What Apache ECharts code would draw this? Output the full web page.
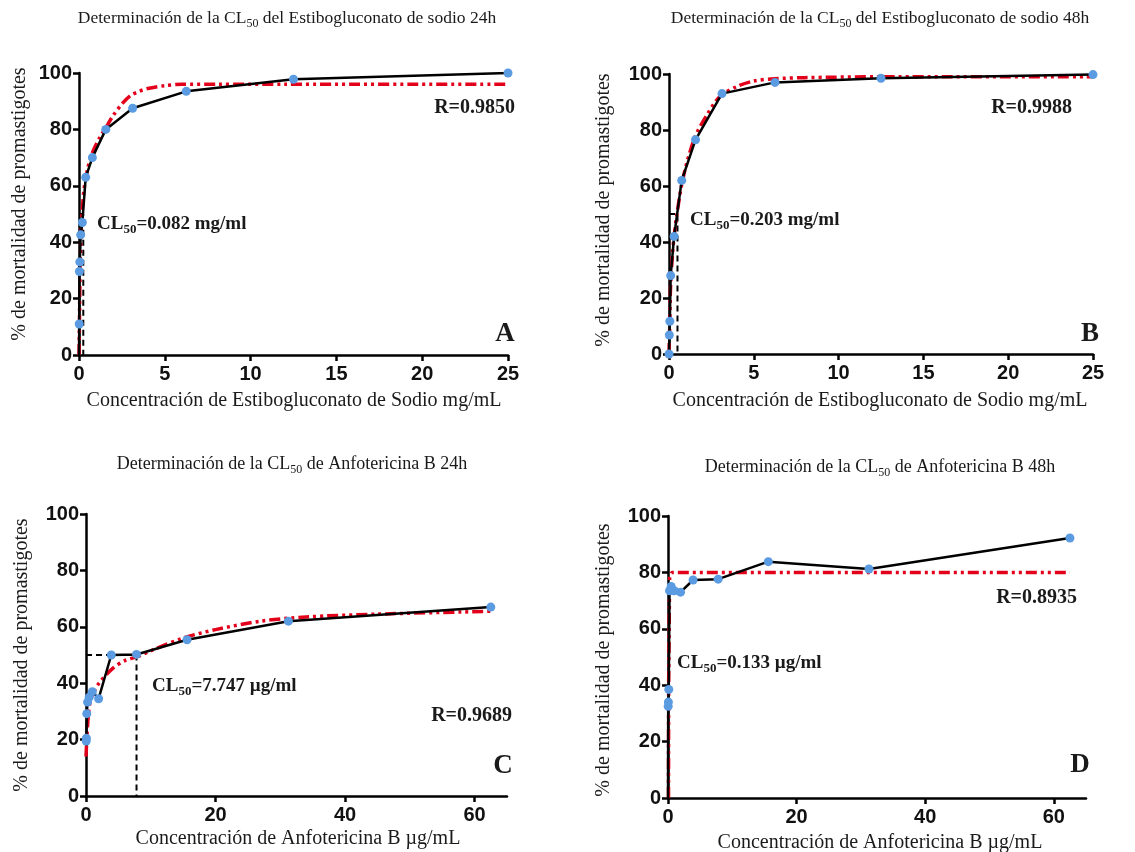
<!DOCTYPE html>
<html>
<head>
<meta charset="utf-8">
<script src="https://cdn.jsdelivr.net/npm/echarts@6/dist/echarts.min.js"></script>
<style>
  html, body { margin: 0; padding: 0; background: #fff; }
  #main { width: 1135px; height: 852px; }
</style>
</head>
<body>
<div id="main"></div>
<script>
// A: Estibogluconato 24h
var concA = [0, 0.012, 0.024, 0.049, 0.098, 0.195, 0.39, 0.78, 1.5625, 3.125, 6.25, 12.5, 25];
var mortA = [0, 11, 29.6, 33, 42.6, 47, 63, 70, 80, 87.5, 93.5, 97.8, 100];
var fitXA = [0, 0.02, 0.05, 0.1, 0.2, 0.3, 0.5, 0.8, 1.2, 1.6, 2, 2.5, 3, 3.5, 4, 5, 6, 8, 12, 25];
var fitYA = [0, 8, 25, 40, 52, 59, 66, 72, 77, 81, 85, 89, 92, 93.5, 94.5, 95.5, 96, 96, 96, 96];
var clLineA = [[0, 50], [0.25, 50], [0.25, 0]];

// B: Estibogluconato 48h
var concB = [0, 0.02, 0.05, 0.1, 0.3, 0.75, 1.5625, 3.125, 6.25, 12.5, 25];
var mortB = [0, 6.8, 11.7, 28, 42, 62, 76.5, 93, 97, 98.5, 99.8];
var fitXB = [0, 0.05, 0.1, 0.3, 0.8, 1.5, 2.2, 3, 4, 5, 6.25, 8, 12.5, 25];
var fitYB = [0, 12, 25, 42, 62, 77, 85, 92, 95.5, 97.5, 98.3, 98.7, 99, 99];
var clLineB = [[0, 50], [0.5, 50], [0.5, 0]];

// C: Anfotericina B 24h
var concC = [0.03, 0.06, 0.12, 0.24, 0.49, 0.98, 1.95, 3.9, 7.8, 15.6, 31.25, 62.5];
var mortC = [19.5, 20.5, 29.2, 33.3, 35, 37, 34.5, 50, 50.2, 55.4, 62, 67];
var fitXC = [0, 0.3, 0.6, 1, 2, 4, 6, 8, 10, 15, 20, 27, 34, 45, 62.5];
var fitYC = [14, 27, 33, 36, 40, 45, 48, 49.5, 51.5, 56, 59, 62, 63.5, 64.5, 65.5];
var clLineC = [[0, 50], [7.8, 50], [7.8, 0]];

// D: Anfotericina B 48h
var concD = [0, 0.03, 0.06, 0.12, 0.24, 0.49, 0.98, 1.95, 3.9, 7.8, 15.6, 31.25, 62.5];
var mortD = [0, 32.5, 34, 38.5, 73.5, 75, 73.5, 73, 77.3, 77.6, 83.8, 81.2, 92.2];
var fitXD = [0.08, 0.1, 0.25, 0.6, 62.5];
var fitYD = [0, 40, 78, 80, 80];

var panels = [
  { grid: { left: 79, top: 73, width: 429, height: 282 }, xmax: 25, xint: 5,
    conc: concA, mort: mortA, fx: fitXA, fy: fitYA, cl: clLineA, smooth: 0.3, hideFirst: true },
  { grid: { left: 669, top: 74, width: 424, height: 280 }, xmax: 25, xint: 5,
    conc: concB, mort: mortB, fx: fitXB, fy: fitYB, cl: clLineB, smooth: 0.3, hideFirst: false },
  { grid: { left: 86, top: 514, width: 421, height: 282 }, xmax: 65, xint: 20,
    conc: concC, mort: mortC, fx: fitXC, fy: fitYC, cl: clLineC, smooth: 0.3, hideFirst: false },
  { grid: { left: 668, top: 516, width: 418, height: 282 }, xmax: 65, xint: 20,
    conc: concD, mort: mortD, fx: fitXD, fy: fitYD, cl: null, smooth: false, hideFirst: true }
];

function pts(xs, ys) {
  return xs.map(function (x, i) { return [x, ys[i]]; });
}

var axisStyle = { lineStyle: { color: '#000', width: 2.5 } };
var tickLabel = { color: '#111', fontFamily: 'Liberation Sans', fontWeight: 'bold', fontSize: 20 };

var grids = [], xAxes = [], yAxes = [], series = [];
panels.forEach(function (p, i) {
  grids.push(p.grid);
  xAxes.push({
    gridIndex: i, type: 'value', min: 0, max: p.xmax, interval: p.xint,
    axisLine: axisStyle, axisTick: { length: 6, lineStyle: { color: '#000', width: 2.5 } },
    splitLine: { show: false },
    axisLabel: Object.assign({ margin: 9, showMaxLabel: p.xmax === 25 }, tickLabel)
  });
  yAxes.push({
    gridIndex: i, type: 'value', min: 0, max: 100, interval: 20,
    axisLine: axisStyle, axisTick: { length: 6, lineStyle: { color: '#000', width: 2.5 } },
    splitLine: { show: false },
    axisLabel: Object.assign({ margin: 7 }, tickLabel)
  });
  if (p.cl) {
    series.push({
      type: 'line', xAxisIndex: i, yAxisIndex: i, data: p.cl, symbol: 'none', silent: true,
      lineStyle: { color: '#000', width: 2, type: [6, 4] }, z: 1
    });
  }
  series.push({
    type: 'line', xAxisIndex: i, yAxisIndex: i, data: pts(p.fx, p.fy), symbol: 'none',
    smooth: p.smooth,
    lineStyle: { color: '#e3001b', width: 3.5, type: [11, 4, 3, 4, 3, 4] }, z: 2
  });
  var d = pts(p.conc, p.mort).map(function (v, k) {
    return (k === 0 && p.hideFirst) ? { value: v, symbol: 'none' } : v;
  });
  series.push({
    type: 'line', xAxisIndex: i, yAxisIndex: i, data: d,
    symbol: 'circle', symbolSize: 9,
    lineStyle: { color: '#000', width: 2.5 },
    itemStyle: { color: '#5a9be2' }, z: 3
  });
});

var serif = 'Liberation Serif';
function txt(x, y, text, size, opts) {
  opts = opts || {};
  var w = opts.bold ? 'bold' : 'normal';
  return {
    type: 'text', x: x, y: y, rotation: opts.rot || 0, silent: true,
    style: {
      text: text, fontFamily: serif, fontSize: size, fontWeight: w,
      fill: '#1a1a1a', textAlign: opts.align || 'center', textVerticalAlign: 'middle',
      rich: {
        t: { fontFamily: serif, fontSize: size, fontWeight: w, lineHeight: size + 6, verticalAlign: 'middle' },
        s: { fontFamily: serif, fontSize: Math.round(size * 0.68), fontWeight: w, lineHeight: size + 6, verticalAlign: 'bottom' }
      }
    }
  };
}

var graphics = [
  txt(287, 18, '{t|Determinación de la CL}{s|50}{t| del Estibogluconato de sodio 24h}', 17.5),
  txt(880, 18, '{t|Determinación de la CL}{s|50}{t| del Estibogluconato de sodio 48h}', 17.5),
  txt(292, 464, '{t|Determinación de la CL}{s|50}{t| de Anfotericina B 24h}', 18),
  txt(880, 467, '{t|Determinación de la CL}{s|50}{t| de Anfotericina B 48h}', 18),

  txt(20, 204, '% de mortalidad de promastigotes', 20, { rot: Math.PI / 2 }),
  txt(604, 210, '% de mortalidad de promastigotes', 20, { rot: Math.PI / 2 }),
  txt(22, 655, '% de mortalidad de promastigotes', 20, { rot: Math.PI / 2 }),
  txt(604, 660, '% de mortalidad de promastigotes', 20, { rot: Math.PI / 2 }),

  txt(294, 401, 'Concentración de Estibogluconato de Sodio mg/mL', 20),
  txt(880, 401, 'Concentración de Estibogluconato de Sodio mg/mL', 20),
  txt(298, 839, 'Concentración de Anfotericina B µg/mL', 20),
  txt(880, 843, 'Concentración de Anfotericina B µg/mL', 20),

  txt(97, 224, '{t|CL}{s|50}{t|=0.082 mg/ml}', 19, { bold: true, align: 'left' }),
  txt(690, 220, '{t|CL}{s|50}{t|=0.203 mg/ml}', 19, { bold: true, align: 'left' }),
  txt(152, 686, '{t|CL}{s|50}{t|=7.747 µg/ml}', 19, { bold: true, align: 'left' }),
  txt(677, 663, '{t|CL}{s|50}{t|=0.133 µg/ml}', 19, { bold: true, align: 'left' }),

  txt(515, 108, 'R=0.9850', 20, { bold: true, align: 'right' }),
  txt(1072, 108, 'R=0.9988', 20, { bold: true, align: 'right' }),
  txt(512, 716, 'R=0.9689', 20, { bold: true, align: 'right' }),
  txt(1077, 598, 'R=0.8935', 20, { bold: true, align: 'right' }),

  txt(505, 334, 'A', 27, { bold: true }),
  txt(1090, 334, 'B', 27, { bold: true }),
  txt(503, 766, 'C', 27, { bold: true }),
  txt(1080, 765, 'D', 27, { bold: true })
];

var myChart = echarts.init(document.getElementById('main'));
myChart.setOption({
  animation: false,
  backgroundColor: '#fff',
  grid: grids,
  xAxis: xAxes,
  yAxis: yAxes,
  series: series,
  graphic: graphics
});
</script>
</body>
</html>
